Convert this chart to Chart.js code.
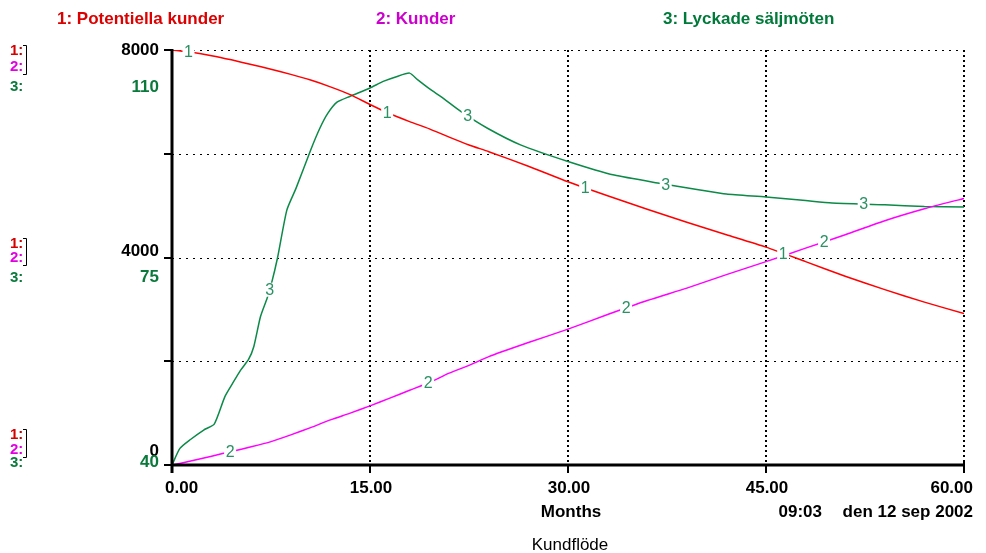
<!DOCTYPE html>
<html>
<head>
<meta charset="utf-8">
<script src="https://cdn.jsdelivr.net/npm/chart.js@4.4.1/dist/chart.umd.min.js"></script>
<style>
  html, body { margin: 0; padding: 0; background: #ffffff; }
  #wrap { width: 986px; height: 553px; position: relative; }
</style>
</head>
<body>
<div id="wrap"><canvas id="kundflode"></canvas></div>
<script>
// Simulation time (months) for stocks 1 and 2
const months = [0, 1.5, 3, 4.5, 6, 7.5, 9, 10.5, 12, 13.5, 15, 16.5, 18, 19.5, 21, 22.5, 24,
                27, 30, 33, 36, 39, 42, 45, 48, 51, 54, 57, 60];
// 1: Potentiella kunder
const potentiellaKunder = [8000, 7955, 7890, 7810, 7720, 7630, 7530, 7420, 7290, 7140, 6950, 6770, 6620,
                           6480, 6320, 6170, 6040, 5760, 5460, 5190, 4930, 4680, 4440, 4200, 3920,
                           3640, 3380, 3140, 2920];
// 2: Kunder
const kunder = [0, 80, 170, 260, 350, 450, 580, 720, 870, 1000, 1140, 1290, 1440, 1590, 1770, 1920,
                2090, 2360, 2620, 2900, 3170, 3410, 3670, 3920, 4180, 4440, 4710, 4940, 5140];
// 3: Lyckade säljmöten (own time base, denser around the ramp-up)
const saljTid = [0, 0.6, 1.4, 2.4, 3.2, 4.0, 4.6, 5.2, 5.8, 6.2, 6.7, 7.2, 7.5, 8.0, 8.7, 9.4, 10.5,
                 11.2, 11.8, 12.5, 13.5, 15.0, 16.0, 17.0, 18.0, 18.6, 19.6, 20.4, 21.9, 23.9, 26.4,
                 30.0, 33.5, 37.0, 40.0, 42.0, 45.0, 48.0, 50.0, 54.0, 57.0, 60.0];
const lyckadeSaljmoten = [40, 42.8, 44.3, 45.9, 46.9, 51.5, 53.8, 56.0, 57.8, 60.0, 65.0, 68.1, 70.3,
                          75.0, 83.0, 86.7, 93.1, 96.8, 99.3, 101.2, 102.2, 103.6, 104.7, 105.5, 106.1,
                          105.0, 103.3, 102.1, 99.6, 96.8, 94.0, 91.2, 88.9, 87.5, 86.4, 85.7, 85.2,
                          84.6, 84.2, 83.9, 83.6, 83.5];

// Axis ticks
const xTicks = [0, 15, 30, 45, 60];
const xTickLabels = ['0.00', '15.00', '30.00', '45.00', '60.00'];
const kundTicks = [0, 2000, 4000, 6000, 8000];
const kundScaleLabels = ['0', '4000', '8000'];
const moteScaleLabels = ['40', '75', '110'];

// Series titles
const seriesTitles = ['1: Potentiella kunder', '2: Kunder', '3: Lyckade säljmöten'];
// Where the series numbers are printed along each curve (months)
const markTimes1 = [1.25, 16.3, 31.3, 46.3];
const markTimes2 = [4.4, 19.4, 34.4, 49.4];
const markTimes3 = [7.4, 22.4, 37.4, 52.4];

const RED = '#ff0000', MAGENTA = '#ff00ff', GREEN = '#0b8a48';
const FONT = '"Liberation Sans", Arial, sans-serif';

function pairs(xs, ys) { return xs.map((x, i) => ({ x: x, y: ys[i] })); }
function valueAt(xs, ys, t) {
  for (let i = 1; i < xs.length; i++) {
    if (t <= xs[i]) {
      const f = (t - xs[i - 1]) / (xs[i] - xs[i - 1]);
      return ys[i - 1] + f * (ys[i] - ys[i - 1]);
    }
  }
  return ys[ys.length - 1];
}

const stellaPlugin = {
  id: 'stellaGraph',
  beforeDatasetsDraw(chart) {
    const { ctx, chartArea: a, scales } = chart;
    const xs = scales.x, ys = scales.y;
    ctx.save();
    ctx.strokeStyle = '#000';
    // dotted horizontal grid
    ctx.lineWidth = 1;
    ctx.setLineDash([2, 5]);
    kundTicks.slice(1).forEach(v => {
      const y = Math.round(ys.getPixelForValue(v)) + 0.5;
      ctx.beginPath(); ctx.moveTo(a.left, y); ctx.lineTo(a.right, y); ctx.stroke();
    });
    // dotted vertical grid
    ctx.lineWidth = 2;
    ctx.setLineDash([2, 3]);
    xTicks.slice(1).forEach(v => {
      const x = Math.round(xs.getPixelForValue(v));
      ctx.beginPath(); ctx.moveTo(x, a.top); ctx.lineTo(x, a.bottom); ctx.stroke();
    });
    ctx.restore();
  },
  afterDatasetsDraw(chart) {
    const { ctx, chartArea: a, scales } = chart;
    const xs = scales.x, ys = scales.y, y3 = scales.y3;
    ctx.save();

    // series numbers along the curves
    ctx.font = '16px ' + FONT;
    ctx.textAlign = 'center';
    ctx.textBaseline = 'middle';
    const marks = [
      [markTimes1, months, potentiellaKunder, ys],
      [markTimes2, months, kunder, ys],
      [markTimes3, saljTid, lyckadeSaljmoten, y3]
    ];
    marks.forEach((m, idx) => {
      m[0].forEach(t => {
        const px = xs.getPixelForValue(t);
        const py = m[3].getPixelForValue(valueAt(m[1], m[2], t));
        ctx.fillStyle = '#ffffff';
        ctx.fillRect(px - 6, py - 7, 12, 14);
        ctx.fillStyle = '#2a9163';
        ctx.fillText(String(idx + 1), px, py + 1);
      });
    });

    // axes
    ctx.strokeStyle = '#000';
    ctx.setLineDash([]);
    ctx.lineWidth = 3;
    ctx.beginPath();
    ctx.moveTo(a.left, a.top - 1); ctx.lineTo(a.left, a.bottom + 8);
    ctx.moveTo(a.left - 1, a.bottom); ctx.lineTo(a.right + 1, a.bottom);
    ctx.stroke();
    ctx.lineWidth = 2;
    ctx.beginPath();
    kundTicks.forEach(v => {
      const y = Math.round(ys.getPixelForValue(v));
      ctx.moveTo(a.left - 8, y); ctx.lineTo(a.left, y);
    });
    xTicks.forEach(v => {
      const x = Math.round(xs.getPixelForValue(v));
      ctx.moveTo(x, a.bottom); ctx.lineTo(x, a.bottom + 8);
    });
    const xr = Math.round(xs.getPixelForValue(60));
    ctx.moveTo(xr, a.bottom - 4); ctx.lineTo(xr, a.bottom);
    ctx.stroke();

    // x tick labels
    ctx.fillStyle = '#000';
    ctx.font = 'bold 17px ' + FONT;
    ctx.textBaseline = 'middle';
    xTicks.forEach((v, i) => {
      const x = xs.getPixelForValue(v);
      if (i === 0) { ctx.textAlign = 'left'; ctx.fillText(xTickLabels[i], x - 7, 488); }
      else if (i === xTicks.length - 1) { ctx.textAlign = 'right'; ctx.fillText(xTickLabels[i], x + 9, 488); }
      else { ctx.textAlign = 'center'; ctx.fillText(xTickLabels[i], x + 1, 488); }
    });
    ctx.textAlign = 'center';
    ctx.fillText('Months', xs.getPixelForValue(30) + 3, 512);
    ctx.textAlign = 'right';
    ctx.fillText('09:03', 822, 512);
    ctx.fillText('den 12 sep 2002', 973, 512);
    ctx.font = '17px ' + FONT;
    ctx.textAlign = 'center';
    ctx.fillText('Kundflöde', 570, 545);

    // left scale labels: three groups (top, middle, bottom)
    const groups = [
      { v1: 8000, k: 2, m: 2, off: [1, 17, 37], offVal: [0, 37] },
      { v1: 4000, k: 1, m: 1, off: [-14, 0, 20], offVal: [-6, 20] },
      { v1: 0,    k: 0, m: 0, off: [-30, -15, -2], offVal: [-14, -3] }
    ];
    groups.forEach(g => {
      const base = ys.getPixelForValue(g.v1);
      ctx.font = 'bold 15px ' + FONT;
      ctx.textAlign = 'left';
      ctx.fillStyle = '#d40000'; ctx.fillText('1:', 10, base + g.off[0]);
      ctx.fillStyle = '#e000e0'; ctx.fillText('2:', 10, base + g.off[1]);
      ctx.fillStyle = '#0a7a3c'; ctx.fillText('3:', 10, base + g.off[2]);
      // bracket joining 1 and 2
      ctx.strokeStyle = '#000'; ctx.lineWidth = 1;
      const bt = Math.round(base + g.off[0] - 6) + 0.5, bb = Math.round(base + g.off[1] + 7) + 0.5;
      ctx.beginPath();
      ctx.moveTo(23, bt); ctx.lineTo(26.5, bt); ctx.lineTo(26.5, bb); ctx.lineTo(23, bb);
      ctx.stroke();
      ctx.font = 'bold 17px ' + FONT;
      ctx.textAlign = 'right';
      ctx.fillStyle = '#000'; ctx.fillText(kundScaleLabels[g.k], 159, base + g.offVal[0]);
      ctx.fillStyle = '#0a7a3c'; ctx.fillText(moteScaleLabels[g.m], 159, base + g.offVal[1]);
    });

    // series titles
    ctx.font = 'bold 17px ' + FONT;
    ctx.textAlign = 'left';
    ctx.fillStyle = '#dd0000'; ctx.fillText(seriesTitles[0], 57, 19);
    ctx.fillStyle = '#cc00cc'; ctx.fillText(seriesTitles[1], 376, 19);
    ctx.fillStyle = '#007a3a'; ctx.fillText(seriesTitles[2], 663, 19);
    ctx.restore();
  }
};

new Chart(document.getElementById('kundflode'), {
  type: 'line',
  data: {
    datasets: [
      { label: seriesTitles[0], data: pairs(months, potentiellaKunder), yAxisID: 'y',
        borderColor: RED, borderWidth: 1.5, pointRadius: 0, tension: 0.2, fill: false },
      { label: seriesTitles[1], data: pairs(months, kunder), yAxisID: 'y',
        borderColor: MAGENTA, borderWidth: 1.5, pointRadius: 0, tension: 0.2, fill: false },
      { label: seriesTitles[2], data: pairs(saljTid, lyckadeSaljmoten), yAxisID: 'y3',
        borderColor: GREEN, borderWidth: 1.5, pointRadius: 0, tension: 0.2, fill: false }
    ]
  },
  options: {
    responsive: true,
    maintainAspectRatio: false,
    animation: false,
    devicePixelRatio: 1,
    layout: { padding: { left: 172, right: 22, top: 50, bottom: 88 } },
    plugins: { legend: { display: false }, tooltip: { enabled: false }, title: { display: false } },
    scales: {
      x: { type: 'linear', min: 0, max: 60, display: false },
      y: { min: 0, max: 8000, display: false },
      y3: { min: 40, max: 110, display: false, position: 'left' }
    }
  },
  plugins: [stellaPlugin]
});
</script>
</body>
</html>
